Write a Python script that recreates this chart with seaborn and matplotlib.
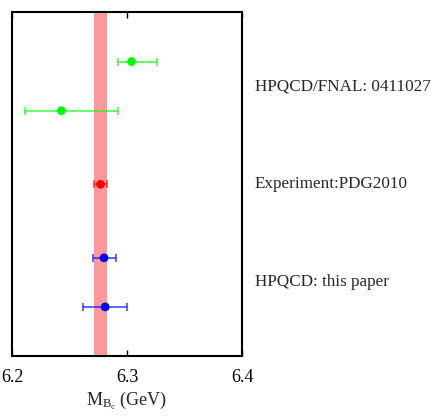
import matplotlib
matplotlib.use("Agg")
import matplotlib.pyplot as plt
import seaborn as sns
import pandas as pd

# Data
groups = ["HPQCD/FNAL: 0411027", "HPQCD/FNAL: 0411027", "Experiment:PDG2010",
          "HPQCD: this paper", "HPQCD: this paper"]
mass = [6.304, 6.243, 6.277, 6.280, 6.281]
err_low = [0.012, 0.032, 0.006, 0.010, 0.019]
err_high = [0.022, 0.049, 0.006, 0.010, 0.019]
ypos = [6, 5, 3.5, 2, 1]
colors = ["#00ff00", "#00ff00", "#ff0000", "#0000ff", "#0000ff"]

label_text = ["HPQCD/FNAL: 0411027", "Experiment:PDG2010", "HPQCD: this paper"]
label_y = [5.5, 3.5, 1.5]

pdg_center = 6.277
pdg_err = 0.006

xticks = [6.2, 6.3, 6.4]
xticklabels = ["6.2", "6.3", "6.4"]

sns.set_style("white")
plt.rcParams["font.family"] = ["Liberation Serif", "DejaVu Serif"]
plt.rcParams["mathtext.fontset"] = "custom"
plt.rcParams["mathtext.rm"] = "Liberation Serif"
plt.rcParams["mathtext.it"] = "Liberation Serif:italic"

df = pd.DataFrame({"group": groups, "mass": mass, "y": ypos, "color": colors})

fig = plt.figure(figsize=(4.36, 4.19), dpi=100)
ax = fig.add_axes([12 / 436, 1 - 356 / 419, 230 / 436, (356 - 12.5) / 419])

ax.axvspan(pdg_center - pdg_err, pdg_center + pdg_err, color="#ff9999", lw=0, zorder=1)

for i in range(len(mass)):
    ax.errorbar(mass[i], ypos[i], xerr=[[err_low[i]], [err_high[i]]], fmt="none",
                ecolor=colors[i], alpha=0.7, capsize=3, elinewidth=1.2, capthick=1.2, zorder=2)

sns.scatterplot(data=df, x="mass", y="y", hue="color", palette={c: c for c in set(colors)},
                s=40, edgecolor="none", legend=False, ax=ax, zorder=3)

ax.set_xlim(6.2, 6.4)
ax.set_ylim(0, 7)
ax.set_xticks(xticks)
ax.set_xticklabels(xticklabels, fontsize=13)
ax.set_yticks([])
ax.tick_params(axis="x", direction="in", length=4, width=1, top=True, bottom=True,
               pad=9, colors="black")
for s in ax.spines.values():
    s.set_color("black")
    s.set_linewidth(1.5)
ax.set_xlabel(r"$\mathrm{M}_{\mathrm{B}_\mathrm{c}}$ (GeV)", fontsize=13, labelpad=3)
ax.set_ylabel("")

for t, yy in zip(label_text, label_y):
    ax.text(6.411, yy, t, fontsize=12.3, va="center", ha="left", clip_on=False)

fig.savefig("out.png", dpi=100)
